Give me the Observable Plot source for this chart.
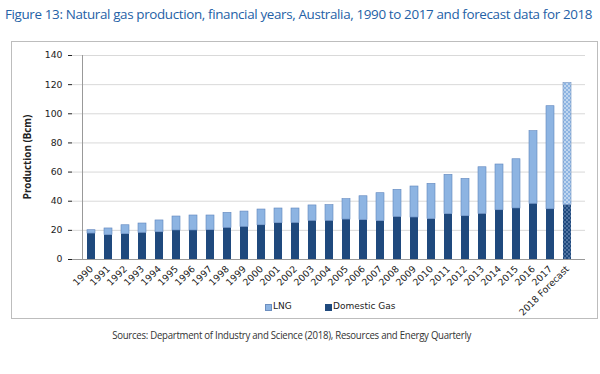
<!DOCTYPE html>
<html>
<head>
<meta charset="utf-8">
<script src="https://cdn.jsdelivr.net/npm/d3@7"></script>
<script src="https://cdn.jsdelivr.net/npm/@observablehq/plot@0.6"></script>
<style>
  html, body { margin: 0; padding: 0; background: #fff; width: 600px; height: 374px; overflow: hidden; position: relative; font-family: "Open Sans", "Noto Sans", sans-serif; }
  #title { position: absolute; left: 5px; top: 5px; font-size: 13.4px; color: #2461a6; white-space: nowrap; letter-spacing: -0.35px; font-family: "Open Sans", sans-serif; }
  #box { position: absolute; left: 11px; top: 41px; width: 587px; height: 278px; border: 1px solid #bdbdbd; box-sizing: border-box; }
  #chart { position: absolute; left: 0; top: 41px; }
  #legend { position: absolute; top: 300px; left: 0; width: 600px; height: 16px; font-family: "DejaVu Sans", sans-serif; font-size: 9px; color: #222; }
  .sw { position: absolute; top: 4px; width: 7px; height: 7px; }
  .lt { position: absolute; top: 1px; }
  #caption { position: absolute; top: 327px; left: -8px; width: 600px; text-align: center; font-size: 10.8px; color: #333; letter-spacing: -0.3px; }
  #caption span { display: inline-block; transform: scaleX(0.89); transform-origin: 50% 50%; white-space: nowrap; }
</style>
</head>
<body>
<div id="title">Figure 13: Natural gas production, financial years, Australia, 1990 to 2017 and forecast data for 2018</div>
<div id="box"></div>
<div id="chart"></div>
<div id="legend">
  <div class="sw" style="left:265px;background:#8db4e2;border:0.5px solid #6d8fc0;box-sizing:border-box"></div>
  <div class="lt" style="left:273px">LNG</div>
  <div class="sw" style="left:325px;background:#1f497d"></div>
  <div class="lt" style="left:333px">Domestic Gas</div>
</div>
<div id="caption"><span>Sources: Department of Industry and Science (2018), Resources and Energy Quarterly</span></div>
<script>
const years = ["1990","1991","1992","1993","1994","1995","1996","1997","1998","1999","2000","2001","2002","2003","2004","2005","2006","2007","2008","2009","2010","2011","2012","2013","2014","2015","2016","2017","2018 Forecast"];
const domesticGas = [17.8,16.7,17.4,18.3,18.7,19.9,19.9,20.1,21.7,22.4,23.5,24.9,25.1,26.5,26.5,27.4,27.0,26.3,29.2,28.8,27.7,31.1,29.7,31.3,33.8,35.0,38.2,34.5,37.5];
const lng = [2.3,4.6,6.1,6.4,8.1,9.6,10.3,10.1,10.3,10.5,10.8,10.1,9.9,10.6,10.8,14.0,16.4,19.2,18.6,21.3,24.2,27.0,25.6,32.0,31.4,33.8,49.9,70.7,83.5];
const forecastYear = "2018 Forecast";
const yTicks = [0,20,40,60,80,100,120,140];

const rows = years.map((y, i) => ({year: y, dom: domesticGas[i], lng: lng[i], top: domesticGas[i] + lng[i], forecast: y === forecastYear}));
const actual = rows.filter(d => !d.forecast);
const fc = rows.filter(d => d.forecast);

const chart = Plot.plot({
  width: 600,
  height: 285,
  marginTop: 14,
  marginBottom: 67,
  marginLeft: 72,
  marginRight: 15,
  style: {fontFamily: "DejaVu Sans, sans-serif", fontSize: "9.3px", color: "#222", background: "transparent", overflow: "visible"},
  x: {domain: years, padding: 0.55, label: null, tickRotate: -45, tickSize: 0, tickPadding: 8},
  y: {domain: [0, 140], ticks: yTicks, label: null, tickSize: 4, tickPadding: 6, grid: false},
  marks: [
    Plot.gridY(yTicks.filter(t => t > 0), {stroke: "#d9d9d9", strokeOpacity: 1}),
    Plot.barY(actual, {x: "year", y1: 0, y2: "dom", fill: "#1f497d", inset: 0}),
    Plot.barY(actual, {x: "year", y1: "dom", y2: "top", fill: "#8db4e2", stroke: "#5f85bd", strokeWidth: 0.6, inset: 0}),
    Plot.barY(fc, {x: "year", y1: 0, y2: "dom", fill: "url(#dotDark)", inset: 0}),
    Plot.barY(fc, {x: "year", y1: "dom", y2: "top", fill: "url(#dotLight)", stroke: "#6d8fc0", strokeWidth: 0.6, inset: 0}),
    Plot.ruleY([0], {stroke: "#999"}),
    Plot.ruleX([years[0]], {stroke: "#999", dx: -9, y1: 0, y2: 140})
  ]
});

// pattern definitions for the forecast bar
const ns = "http://www.w3.org/2000/svg";
const defs = document.createElementNS(ns, "defs");
defs.innerHTML = `
<pattern id="dotDark" width="4" height="4" patternUnits="userSpaceOnUse">
  <rect width="4" height="4" fill="#1f497d"/>
  <circle cx="1" cy="1" r="0.8" fill="#8fa9cc"/>
  <circle cx="3" cy="3" r="0.8" fill="#8fa9cc"/>
</pattern>
<pattern id="dotLight" width="4" height="4" patternUnits="userSpaceOnUse">
  <rect width="4" height="4" fill="#8db4e2"/>
  <circle cx="1" cy="1" r="0.8" fill="#ffffff"/>
  <circle cx="3" cy="3" r="0.8" fill="#ffffff"/>
</pattern>`;
chart.insertBefore(defs, chart.firstChild);

// y-axis title
const yl = document.createElementNS(ns, "text");
yl.setAttribute("transform", "translate(31,116) rotate(-90)");
yl.setAttribute("text-anchor", "middle");
yl.setAttribute("font-size", "9.8");
yl.setAttribute("font-weight", "bold");
yl.setAttribute("fill", "#222");
yl.setAttribute("font-family", "Open Sans, sans-serif");
yl.textContent = "Production (Bcm)";
chart.appendChild(yl);

document.getElementById("chart").appendChild(chart);
</script>
</body>
</html>
